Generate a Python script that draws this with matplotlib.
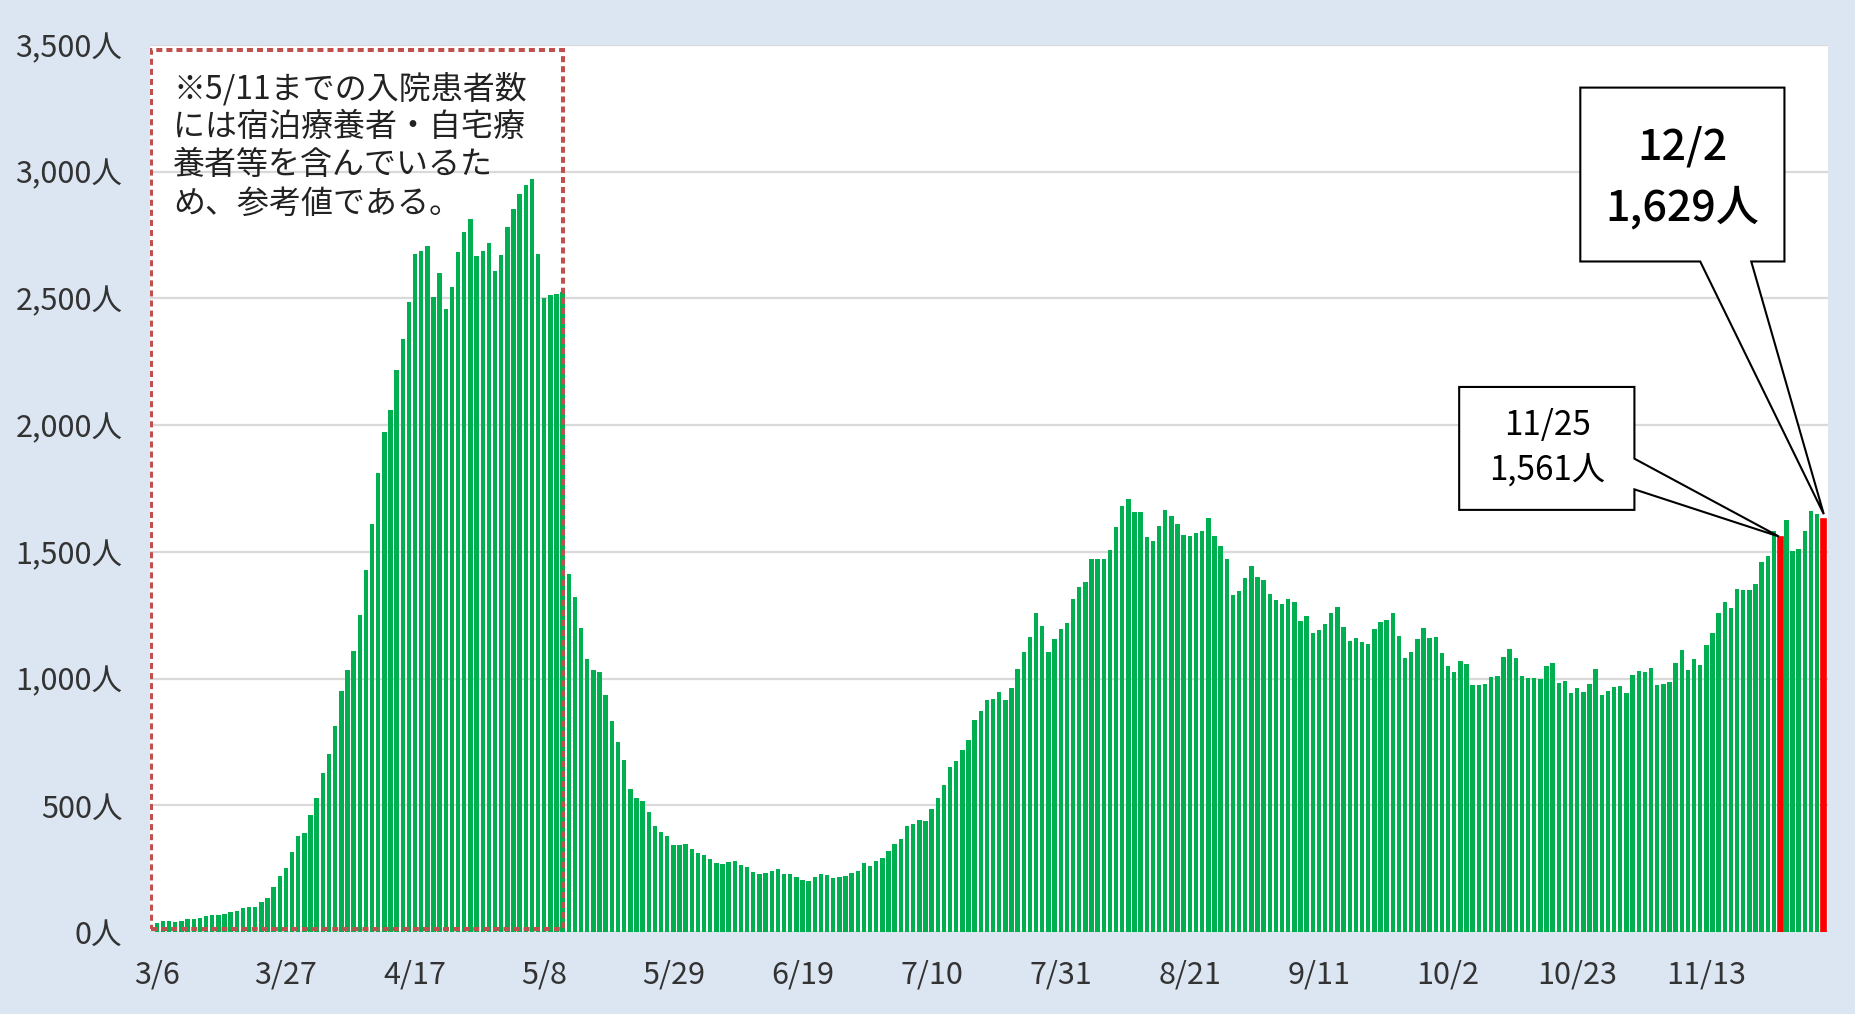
import pandas as pd
import matplotlib.pyplot as plt
from matplotlib.patches import Rectangle, Polygon

plt.rcParams['font.family'] = ['Noto Sans CJK JP', 'DejaVu Sans']

# daily hospitalised patients, 2020-03-06 .. 2020-12-02
start_date = '2020-03-06'
patients = [
    36, 44, 44, 40, 44, 50, 52, 54, 64, 66, 66, 70, 80, 84, 94, 100, 100,
    118, 136, 177, 223, 253, 315, 380, 392, 464, 530, 629, 703, 814, 953, 1033, 1110, 1250,
    1429, 1610, 1811, 1974, 2062, 2219, 2340, 2486, 2677, 2689, 2709, 2506, 2601, 2460,
    2547, 2685, 2764, 2814, 2667, 2689, 2718, 2607, 2671, 2784, 2852, 2912, 2949, 2973,
    2677, 2502, 2512, 2516, 2525, 1415,
    1321, 1200, 1079, 1035, 1025, 937, 832, 752, 679, 565, 531, 519, 474, 420, 394, 380,
    344, 342, 348, 330, 312, 306, 289, 271, 269, 277, 281, 265, 257, 237, 229, 235, 243, 249,
    231, 231, 219, 207, 203, 219, 231, 225, 213, 217, 223, 235, 243, 271, 263, 279, 293,
    322, 346, 368, 418, 426, 444, 440, 486, 529, 579, 651, 677, 720, 760, 836, 874, 917,
    919, 949, 915, 965, 1039, 1106, 1166, 1260, 1208, 1106, 1156, 1196, 1218, 1315, 1363,
    1381, 1473, 1473, 1473, 1508, 1600, 1680, 1709, 1656, 1656, 1558, 1542, 1604, 1664,
    1642, 1612, 1568, 1564, 1574,
    1582, 1634, 1564, 1524, 1473, 1329, 1347, 1397, 1445, 1401, 1389, 1333, 1309, 1296,
    1313, 1304, 1228, 1248, 1182, 1192, 1216, 1260, 1282, 1204, 1150, 1162, 1146, 1136,
    1198, 1222, 1232, 1258, 1170, 1083, 1106,
    1156, 1200, 1162, 1166, 1103, 1049, 1025, 1071, 1059, 977, 977, 979, 1007, 1009, 1085,
    1118, 1083, 1009, 1001, 1001, 997, 1051, 1063, 983, 991, 945, 965, 947, 979, 1037,
    935, 953, 969, 973,
    945, 1015, 1031, 1025, 1041, 975, 979, 987, 1061, 1114, 1035, 1077, 1055, 1132, 1180,
    1260, 1302, 1280, 1355, 1349, 1351, 1375, 1461, 1483, 1582, 1561, 1626, 1503, 1510,
    1582, 1660, 1650, 1629,
]
highlight_dates = ['2020-11-25', '2020-12-02']
yticks = [0, 500, 1000, 1500, 2000, 2500, 3000, 3500]
note_lines = ['※5/11までの入院患者数', 'には宿泊療養者・自宅療', '養者等を含んでいるた', 'め、参考値である。']
note_end = '2020-05-11'

dates = pd.date_range(start_date, periods=len(patients), freq='D')
date_str = list(dates.strftime('%Y-%m-%d'))
x = list(range(len(dates)))
is_hl = [d in highlight_dates for d in date_str]

fig = plt.figure(figsize=(18.55, 10.14), dpi=100, facecolor='#dce6f2')
ax = fig.add_axes([0.0809, 0.0807, 0.9046, 0.8749])
ax.set_facecolor('white')

green_x = [i for i in x if not is_hl[i]]
red_x = [i for i in x if is_hl[i]]
ax.bar(green_x, [patients[i] for i in green_x], width=0.72, color='#00b050', zorder=3)
ax.bar(red_x, [patients[i] for i in red_x], width=0.78, color='#ff0000',
       edgecolor='#ff0000', lw=1.2, zorder=4)

ax.set_xlim(-1.1, len(dates) - 0.2)
ax.set_ylim(0, 3500)
ax.set_yticks(yticks)
ax.set_yticklabels([f'{v:,}人' for v in yticks], fontsize=22, color='#333333')
tick_pos = x[::21]
ax.set_xticks(tick_pos)
ax.set_xticklabels([f'{dates[i].month}/{dates[i].day}' for i in tick_pos], fontsize=22, color='#333333')
ax.tick_params(length=0)
ax.tick_params(axis='y', pad=20)
ax.tick_params(axis='x', pad=20)
ax.yaxis.grid(True, color='#d9d9d9', lw=1.6, zorder=0)
for s in ax.spines.values():
    s.set_visible(False)

# dotted note box
end_idx = date_str.index(note_end)
ax.add_patch(Rectangle((-0.9, 12), end_idx + 0.9 + 0.1, 3468, fill=False,
                       edgecolor='#c0504d', lw=2.9, linestyle=(0, (1.5, 1)), zorder=5))
for i, line in enumerate(note_lines):
    ax.text(2.65, 3328 - i * 151, line, fontsize=23, va='center', ha='left', color='#222222', zorder=6)

# callouts
i1 = date_str.index(highlight_dates[0])
i2 = date_str.index(highlight_dates[1])
box1 = [(211.8, 2151), (240.3, 2151), (240.3, 1868), (i1 - 0.2, patients[i1]),
        (240.3, 1747), (240.3, 1666), (211.8, 1666)]
ax.add_patch(Polygon(box1, closed=True, facecolor='white', edgecolor='black', lw=1.5, zorder=6,
                     clip_on=False))
d1 = dates[i1]
ax.text(226.1, 1997, f'{d1.month}/{d1.day}', fontsize=24, ha='center', va='center', zorder=7)
ax.text(226.1, 1819, f'{patients[i1]:,}人', fontsize=24, ha='center', va='center', zorder=7)

box2 = [(231.5, 3332), (264.7, 3332), (264.7, 2646), (259.3, 2646), (i2 + 0.1, patients[i2] + 20),
        (251.0, 2646), (231.5, 2646)]
ax.add_patch(Polygon(box2, closed=True, facecolor='white', edgecolor='black', lw=1.5, zorder=6,
                     clip_on=False))
d2 = dates[i2]
ax.text(248.1, 3099, f'{d2.month}/{d2.day}', fontsize=31, ha='center', va='center',
        fontweight='medium', zorder=7)
ax.text(248.1, 2857, f'{patients[i2]:,}人', fontsize=31, ha='center', va='center',
        fontweight='medium', zorder=7)

fig.savefig('out.png', dpi=100, facecolor=fig.get_facecolor())
